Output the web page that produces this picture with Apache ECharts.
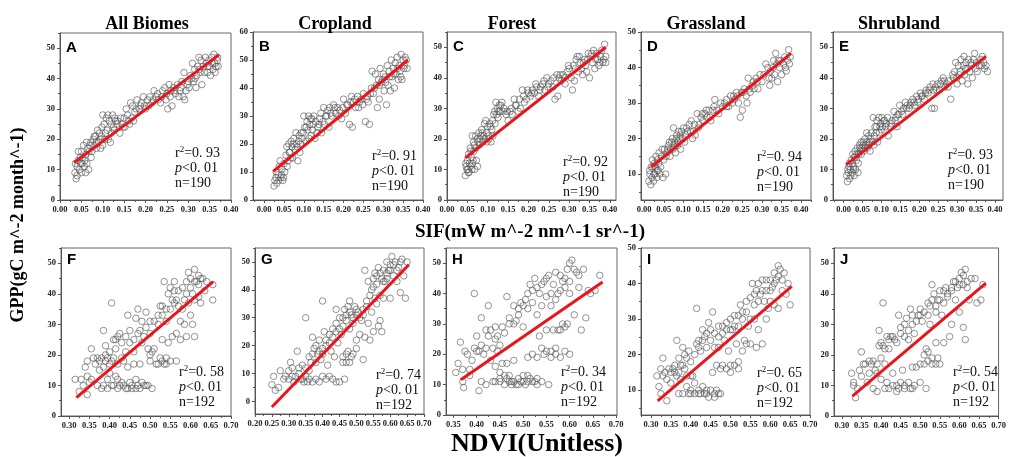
<!DOCTYPE html>
<html><head><meta charset="utf-8">
<script src="https://cdn.jsdelivr.net/npm/echarts@6/dist/echarts.min.js"></script>
<style>html,body{margin:0;padding:0;background:#fff}#c{width:1009px;height:457px}</style>
</head><body><div id="c"></div>
<script>
// ---------- text ----------
const titles = ['All Biomes','Cropland','Forest','Grassland','Shrubland'];
const letters = ['A','B','C','D','E','F','G','H','I','J'];
const r2Text = ['0. 93','0. 91','0. 92','0. 94','0. 93','0. 58','0. 74','0. 34','0. 65','0. 54'];
const pText = '0. 01';
const nCount = [190,190,190,190,190,192,192,192,192,192];
const xNameTop = 'SIF(mW m^-2 nm^-1 sr^-1)';
const xNameBottom = 'NDVI(Unitless)';
const yName = 'GPP(gC m^-2 month^-1)';

// ---------- tick labels ----------
const sifTicks = [0,0.05,0.10,0.15,0.20,0.25,0.30,0.35,0.40];
const ndviTicks30 = [0.30,0.35,0.40,0.45,0.50,0.55,0.60,0.65,0.70];
const ndviTicks20 = [0.20,0.25,0.30,0.35,0.40,0.45,0.50,0.55,0.60,0.65,0.70];
const ndviTicks35 = [0.35,0.40,0.45,0.50,0.55,0.60,0.65,0.70];
const gppTicks50 = [0,10,20,30,40,50];
const gppTicks60 = [0,10,20,30,40,50,60];
const gppTicks10 = [10,20,30,40,50];

// ---------- scatter data ----------
const dataA = [[0.035,9],[0.038,7],[0.04,11],[0.042,13],[0.045,10],[0.047,14],[0.05,9],[0.05,16],[0.052,12],[0.055,18],[0.057,11],[0.06,9],[0.06,15],[0.062,19],[0.065,17],[0.067,10],[0.07,18],[0.072,19],[0.075,16],[0.078,20],[0.08,18],[0.083,21],[0.085,17],[0.088,23],[0.09,19],[0.092,22],[0.095,17],[0.097,21],[0.1,28],[0.1,18],[0.103,25],[0.105,20],[0.108,27],[0.11,23],[0.112,28],[0.115,26],[0.118,19],[0.12,25],[0.123,28],[0.125,24],[0.128,27],[0.13,26],[0.135,26],[0.14,22],[0.145,25],[0.15,27],[0.152,24],[0.155,30],[0.16,26],[0.163,25],[0.165,32],[0.17,31],[0.175,29],[0.18,33],[0.185,30],[0.19,32],[0.195,34],[0.2,30],[0.205,33],[0.21,34],[0.215,32],[0.22,36],[0.225,34],[0.23,33],[0.235,32],[0.24,36],[0.245,37],[0.25,35],[0.252,30],[0.255,38],[0.26,36],[0.262,31],[0.265,37],[0.27,35],[0.275,38],[0.28,36],[0.285,39],[0.288,34],[0.29,42],[0.292,33],[0.295,36],[0.3,39],[0.302,37],[0.305,41],[0.31,45],[0.312,39],[0.315,43],[0.318,37],[0.32,41],[0.322,44],[0.325,47],[0.328,42],[0.33,46],[0.332,38],[0.335,44],[0.34,47],[0.342,45],[0.345,42],[0.348,46],[0.35,44],[0.352,41],[0.355,47],[0.358,43],[0.36,48],[0.362,45],[0.365,44],[0.368,46],[0.37,44],
 [0.036,12],[0.04,8],[0.043,16],[0.048,12],[0.053,14],[0.058,13],[0.063,12],[0.068,16],[0.073,14],[0.08,21],[0.086,19],[0.094,20],[0.098,24],[0.106,22],[0.113,20],[0.12,22],[0.127,23],[0.133,25],[0.142,27],[0.148,24],[0.158,28],[0.168,27],[0.172,26],[0.178,30],[0.188,31],[0.198,31],[0.208,31],[0.218,33],[0.228,35],[0.238,34],[0.248,33],[0.258,34],[0.268,36],[0.278,34],[0.283,37],[0.298,38],[0.308,40],[0.316,40],[0.326,43],[0.338,42],[0.346,44],[0.356,45],[0.363,42],[0.369,47]];
const dataB = [[0.025,5],[0.027,7],[0.03,8],[0.032,6],[0.035,9],[0.037,7],[0.04,14],[0.042,8],[0.045,11],[0.047,7],[0.05,13],[0.052,10],[0.055,16],[0.057,19],[0.06,14],[0.062,20],[0.065,17],[0.068,21],[0.07,19],[0.072,15],[0.075,22],[0.078,18],[0.08,24],[0.082,20],[0.085,14],[0.088,23],[0.09,17],[0.093,24],[0.095,22],[0.1,30],[0.102,26],[0.105,21],[0.108,28],[0.11,25],[0.112,30],[0.115,27],[0.118,23],[0.12,29],[0.122,25],[0.125,30],[0.128,22],[0.13,28],[0.133,24],[0.135,26],[0.14,29],[0.145,24],[0.15,33],[0.152,27],[0.155,30],[0.16,32],[0.163,26],[0.165,33],[0.17,30],[0.175,34],[0.18,31],[0.185,33],[0.19,32],[0.195,29],[0.2,36],[0.205,31],[0.21,34],[0.215,27],[0.22,37],[0.222,26],[0.225,35],[0.23,33],[0.235,37],[0.24,35],[0.245,36],[0.25,38],[0.255,28],[0.26,37],[0.262,35],[0.265,27],[0.27,40],[0.272,46],[0.275,38],[0.28,45],[0.283,41],[0.285,33],[0.288,43],[0.29,36],[0.292,47],[0.295,42],[0.3,45],[0.302,39],[0.305,44],[0.308,34],[0.31,48],[0.312,41],[0.315,46],[0.318,39],[0.32,50],[0.322,44],[0.325,47],[0.328,40],[0.33,49],[0.332,45],[0.335,51],[0.338,43],[0.34,48],[0.342,46],[0.345,52],[0.347,43],[0.35,50],[0.352,47],[0.355,51],[0.36,47],
 [0.03,10],[0.038,12],[0.044,9],[0.049,8],[0.058,12],[0.063,17],[0.067,15],[0.073,20],[0.083,19],[0.087,21],[0.092,20],[0.098,24],[0.106,26],[0.113,22],[0.117,29],[0.124,27],[0.138,27],[0.143,31],[0.148,28],[0.158,30],[0.168,31],[0.178,33],[0.188,30],[0.198,33],[0.208,34],[0.218,35],[0.228,36],[0.238,33],[0.248,34],[0.258,36],[0.268,38],[0.278,40],[0.29,41],[0.298,43],[0.306,42],[0.316,44],[0.326,45],[0.336,47],[0.344,44],[0.353,48],[0.358,50]];
const dataC = [[0.045,8],[0.047,11],[0.049,10],[0.05,13],[0.052,9],[0.053,15],[0.055,12],[0.057,17],[0.058,11],[0.06,14],[0.062,21],[0.063,12],[0.065,19],[0.066,16],[0.068,10],[0.07,21],[0.072,13],[0.074,20],[0.075,11],[0.078,22],[0.08,18],[0.083,21],[0.085,23],[0.088,19],[0.09,21],[0.093,20],[0.095,26],[0.098,19],[0.1,24],[0.103,20],[0.105,25],[0.108,19],[0.11,23],[0.113,21],[0.115,28],[0.118,25],[0.12,32],[0.123,30],[0.125,27],[0.128,31],[0.13,29],[0.135,32],[0.14,30],[0.145,28],[0.15,26],[0.155,29],[0.16,28],[0.165,33],[0.17,31],[0.175,29],[0.18,30],[0.185,36],[0.19,32],[0.195,33],[0.2,35],[0.205,34],[0.21,36],[0.215,35],[0.22,37],[0.225,34],[0.23,37],[0.235,38],[0.24,36],[0.245,40],[0.25,38],[0.255,39],[0.26,37],[0.265,33],[0.27,41],[0.272,34],[0.275,40],[0.28,39],[0.285,41],[0.29,38],[0.295,42],[0.3,43],[0.305,40],[0.308,36],[0.31,44],[0.313,39],[0.317,46],[0.32,47],[0.323,42],[0.327,45],[0.33,43],[0.333,41],[0.337,46],[0.34,44],[0.343,42],[0.347,48],[0.35,40],[0.353,47],[0.357,45],[0.36,49],[0.363,43],[0.367,48],[0.37,46],[0.373,44],[0.377,47],[0.38,49],[0.383,45],[0.387,51],[0.39,47],[0.385,46],[0.39,45],
 [0.046,12],[0.051,10],[0.054,9],[0.059,16],[0.061,10],[0.064,13],[0.067,18],[0.071,17],[0.076,19],[0.081,20],[0.087,22],[0.092,25],[0.097,22],[0.102,21],[0.107,24],[0.112,26],[0.117,29],[0.122,28],[0.127,29],[0.132,31],[0.138,29],[0.148,29],[0.158,30],[0.168,31],[0.178,33],[0.188,34],[0.198,36],[0.208,35],[0.218,38],[0.228,36],[0.238,39],[0.248,37],[0.262,40],[0.278,41],[0.288,40],[0.298,44],[0.315,43],[0.325,47],[0.335,45],[0.345,46],[0.355,48],[0.365,46],[0.375,45]];
const dataD = [[0.012,8],[0.015,10],[0.017,7],[0.02,9],[0.022,12],[0.024,8],[0.026,13],[0.028,10],[0.03,15],[0.032,9],[0.034,14],[0.036,11],[0.038,16],[0.04,10],[0.044,15],[0.048,9],[0.052,17],[0.055,10],[0.058,16],[0.062,18],[0.066,15],[0.07,19],[0.073,17],[0.075,23],[0.078,19],[0.08,16],[0.083,21],[0.085,18],[0.088,22],[0.09,20],[0.093,17],[0.095,22],[0.1,23],[0.103,19],[0.105,21],[0.11,22],[0.115,24],[0.12,25],[0.123,20],[0.125,22],[0.13,21],[0.135,27],[0.14,24],[0.145,26],[0.15,25],[0.155,27],[0.16,26],[0.165,28],[0.17,25],[0.175,28],[0.18,31],[0.185,28],[0.19,27],[0.2,29],[0.205,30],[0.21,31],[0.215,29],[0.22,32],[0.225,30],[0.23,31],[0.235,33],[0.24,30],[0.245,26],[0.248,33],[0.25,28],[0.255,34],[0.26,32],[0.262,30],[0.265,37],[0.27,33],[0.275,35],[0.28,34],[0.285,37],[0.29,34],[0.295,38],[0.3,36],[0.31,41],[0.315,40],[0.318,37],[0.32,35],[0.322,39],[0.325,37],[0.33,42],[0.332,38],[0.335,44],[0.338,41],[0.34,36],[0.342,42],[0.345,40],[0.35,38],[0.355,41],[0.36,40],[0.362,39],[0.365,42],[0.368,45],[0.37,41],
 [0.014,11],[0.018,12],[0.021,14],[0.025,10],[0.029,12],[0.033,11],[0.037,13],[0.042,12],[0.046,17],[0.05,14],[0.056,15],[0.06,17],[0.064,19],[0.068,17],[0.072,20],[0.077,18],[0.082,20],[0.087,19],[0.092,21],[0.098,20],[0.108,23],[0.118,22],[0.128,24],[0.138,23],[0.148,27],[0.158,28],[0.168,26],[0.178,29],[0.195,30],[0.21,29],[0.228,32],[0.238,32],[0.252,33],[0.268,34],[0.278,36],[0.288,36],[0.305,38],[0.328,40],[0.348,42],[0.358,43],[0.372,43]];
const dataE = [[0.008,8],[0.01,6],[0.012,9],[0.014,11],[0.016,7],[0.018,10],[0.02,13],[0.022,9],[0.024,15],[0.026,11],[0.028,8],[0.028,14],[0.03,16],[0.032,10],[0.034,13],[0.036,17],[0.038,9],[0.04,15],[0.042,18],[0.044,16],[0.046,19],[0.048,17],[0.051,18],[0.053,16],[0.056,20],[0.058,18],[0.061,22],[0.063,17],[0.066,21],[0.068,19],[0.07,16],[0.073,22],[0.078,27],[0.08,18],[0.083,24],[0.086,22],[0.088,26],[0.09,19],[0.093,27],[0.096,24],[0.098,25],[0.101,27],[0.103,24],[0.108,26],[0.113,25],[0.118,21],[0.123,24],[0.128,26],[0.133,29],[0.138,27],[0.141,24],[0.143,28],[0.148,31],[0.153,29],[0.158,30],[0.163,32],[0.168,31],[0.173,30],[0.178,32],[0.183,33],[0.188,31],[0.193,34],[0.198,33],[0.203,35],[0.208,34],[0.213,33],[0.218,36],[0.223,35],[0.228,37],[0.233,30],[0.236,38],[0.238,36],[0.24,30],[0.243,37],[0.248,38],[0.253,36],[0.258,39],[0.263,40],[0.268,37],[0.273,38],[0.278,39],[0.283,33],[0.288,41],[0.293,42],[0.296,45],[0.298,40],[0.3,38],[0.303,44],[0.308,42],[0.31,46],[0.313,39],[0.316,44],[0.318,47],[0.32,41],[0.323,45],[0.326,43],[0.328,38],[0.33,46],[0.333,42],[0.338,44],[0.34,40],[0.343,46],[0.346,48],[0.348,43],[0.353,42],[0.358,44],[0.362,46],[0.367,47],[0.372,43],[0.376,44],[0.38,42],
 [0.011,10],[0.015,12],[0.019,8],[0.023,12],[0.027,10],[0.031,14],[0.035,15],[0.039,12],[0.043,17],[0.047,15],[0.052,19],[0.057,17],[0.062,19],[0.067,18],[0.072,20],[0.076,19],[0.081,21],[0.087,24],[0.094,22],[0.1,23],[0.106,26],[0.111,24],[0.116,27],[0.126,25],[0.136,26],[0.146,28],[0.156,28],[0.166,30],[0.176,31],[0.186,32],[0.196,32],[0.206,34],[0.216,35],[0.226,36],[0.246,36],[0.256,38],[0.266,39],[0.276,37],[0.29,40],[0.306,41],[0.321,43],[0.336,45],[0.351,45],[0.365,44],[0.37,45]];
const dataF = [[0.315,12],[0.325,8],[0.335,10],[0.34,16],[0.345,18],[0.345,13],[0.35,11],[0.345,7],[0.355,22],[0.36,19],[0.37,19],[0.37,10],[0.375,18],[0.38,9],[0.385,28],[0.385,16],[0.39,20],[0.39,23],[0.395,19],[0.4,17],[0.4,14],[0.405,37],[0.405,10],[0.41,25],[0.41,19],[0.415,22],[0.415,13],[0.42,26],[0.42,9],[0.425,27],[0.43,24],[0.43,11],[0.435,18],[0.44,9],[0.44,26],[0.445,33],[0.445,16],[0.45,11],[0.45,28],[0.455,10],[0.46,25],[0.46,17],[0.465,12],[0.465,32],[0.47,35],[0.47,10],[0.475,28],[0.475,17],[0.48,31],[0.48,11],[0.485,26],[0.49,10],[0.49,34],[0.495,22],[0.5,18],[0.5,31],[0.505,9],[0.505,21],[0.51,22],[0.515,17],[0.52,17],[0.52,30],[0.525,36],[0.525,19],[0.53,33],[0.53,25],[0.535,44],[0.535,17],[0.54,35],[0.54,19],[0.545,40],[0.545,24],[0.55,42],[0.55,18],[0.555,38],[0.555,26],[0.56,41],[0.56,44],[0.565,38],[0.565,27],[0.57,36],[0.575,31],[0.575,25],[0.58,42],[0.585,38],[0.585,30],[0.59,44],[0.59,26],[0.595,47],[0.595,37],[0.6,45],[0.6,33],[0.605,40],[0.605,30],[0.61,48],[0.61,26],[0.615,44],[0.62,46],[0.62,39],[0.625,37],[0.63,45],[0.635,41],[0.655,38],[0.655,43],[0.385,10],[0.395,9],[0.41,10],[0.425,10],[0.435,10],[0.445,9],[0.455,9],[0.465,9],[0.475,9],[0.485,10],[0.495,10],[0.395,12],[0.42,12],
 [0.33,12],[0.355,12],[0.365,17],[0.375,15],[0.38,19],[0.39,18],[0.4,21],[0.405,18],[0.415,25],[0.42,17],[0.43,19],[0.44,21],[0.45,24],[0.46,21],[0.47,27],[0.48,24],[0.49,29],[0.5,27],[0.51,31],[0.52,33],[0.53,36],[0.54,31],[0.55,35],[0.56,37],[0.57,41],[0.58,35],[0.59,40],[0.6,42],[0.61,38],[0.62,43],[0.625,45],[0.64,44],[0.61,44],[0.53,18],[0.54,17],[0.5,20],[0.565,18]];
const dataG = [[0.25,6],[0.255,9],[0.27,5],[0.275,11],[0.29,9],[0.3,11],[0.305,14],[0.31,12],[0.315,7],[0.32,9],[0.325,18],[0.33,12],[0.335,8],[0.34,13],[0.345,7],[0.35,30],[0.35,9],[0.355,7],[0.36,16],[0.36,8],[0.365,14],[0.37,23],[0.37,7],[0.375,19],[0.38,20],[0.38,8],[0.385,17],[0.39,7],[0.39,22],[0.395,15],[0.4,36],[0.4,19],[0.4,9],[0.405,25],[0.41,22],[0.41,8],[0.415,13],[0.42,24],[0.42,9],[0.425,18],[0.43,26],[0.43,8],[0.435,16],[0.44,33],[0.44,28],[0.44,7],[0.445,21],[0.45,30],[0.45,7],[0.455,24],[0.46,16],[0.46,30],[0.465,33],[0.465,8],[0.47,29],[0.47,14],[0.475,34],[0.475,18],[0.48,26],[0.48,36],[0.485,31],[0.485,16],[0.49,28],[0.495,34],[0.5,22],[0.5,31],[0.505,32],[0.51,24],[0.515,29],[0.52,33],[0.52,15],[0.525,47],[0.525,23],[0.53,34],[0.535,43],[0.535,28],[0.54,22],[0.545,40],[0.545,32],[0.55,44],[0.55,25],[0.555,37],[0.555,46],[0.56,42],[0.56,35],[0.565,27],[0.565,48],[0.57,38],[0.57,29],[0.575,44],[0.575,25],[0.58,47],[0.58,37],[0.585,43],[0.59,50],[0.59,44],[0.595,47],[0.6,49],[0.6,37],[0.605,52],[0.61,45],[0.615,50],[0.62,43],[0.625,48],[0.63,39],[0.635,51],[0.64,45],[0.645,37],[0.65,50],
 [0.26,4],[0.285,8],[0.3,8],[0.31,9],[0.33,10],[0.34,8],[0.35,12],[0.36,11],[0.37,17],[0.38,14],[0.39,18],[0.4,17],[0.41,20],[0.42,21],[0.43,23],[0.44,25],[0.45,26],[0.46,27],[0.47,31],[0.48,32],[0.49,30],[0.5,33],[0.51,30],[0.52,31],[0.53,36],[0.54,38],[0.55,41],[0.56,45],[0.57,46],[0.58,43],[0.59,46],[0.6,47],[0.61,49],[0.62,47],[0.63,50],[0.5,19],[0.49,17],[0.47,17],[0.48,14],[0.46,14]];
const dataH = [[0.355,14],[0.36,17],[0.365,24],[0.37,11],[0.372,9],[0.375,21],[0.38,20],[0.385,15],[0.385,13],[0.395,40],[0.395,22],[0.4,26],[0.405,21],[0.405,8],[0.41,32],[0.41,11],[0.415,20],[0.42,22],[0.42,10],[0.425,26],[0.425,36],[0.43,28],[0.43,18],[0.435,22],[0.435,11],[0.44,29],[0.44,16],[0.445,26],[0.445,21],[0.45,14],[0.45,11],[0.455,29],[0.455,17],[0.46,13],[0.46,10],[0.465,39],[0.465,17],[0.47,32],[0.47,11],[0.475,11],[0.48,36],[0.48,18],[0.485,31],[0.485,10],[0.49,33],[0.49,12],[0.495,37],[0.495,11],[0.5,29],[0.5,13],[0.505,38],[0.505,10],[0.51,35],[0.51,19],[0.515,43],[0.515,12],[0.52,41],[0.52,20],[0.525,45],[0.525,11],[0.53,33],[0.53,19],[0.535,40],[0.535,26],[0.54,36],[0.54,22],[0.545,44],[0.545,20],[0.55,39],[0.55,28],[0.555,46],[0.555,10],[0.56,36],[0.56,21],[0.565,43],[0.565,28],[0.57,47],[0.57,20],[0.575,40],[0.575,28],[0.58,46],[0.58,19],[0.585,44],[0.585,30],[0.59,42],[0.59,21],[0.595,48],[0.595,30],[0.6,50],[0.6,40],[0.605,51],[0.61,33],[0.615,47],[0.62,46],[0.625,28],[0.63,48],[0.635,32],[0.64,41],[0.645,40],[0.655,41],[0.665,46],[0.465,12],[0.475,10],[0.49,10],[0.5,11],[0.51,11],[0.52,11],[0.53,10],[0.54,11],
 [0.37,15],[0.39,18],[0.4,21],[0.41,23],[0.42,28],[0.44,25],[0.45,23],[0.46,27],[0.47,30],[0.48,30],[0.49,35],[0.5,36],[0.51,40],[0.52,37],[0.53,42],[0.54,43],[0.55,45],[0.56,40],[0.57,38],[0.58,41],[0.59,45],[0.6,44],[0.61,48],[0.62,42],[0.55,21],[0.56,19],[0.57,22],[0.58,28],[0.59,29],[0.6,20],[0.53,12],[0.51,13],[0.47,13],[0.45,12],[0.44,11],[0.48,11]];
const dataI = [[0.315,14],[0.32,11],[0.325,9],[0.325,16],[0.33,19],[0.335,15],[0.34,13],[0.34,7],[0.345,16],[0.35,12],[0.355,16],[0.36,15],[0.365,14],[0.365,24],[0.37,19],[0.37,9],[0.375,17],[0.375,13],[0.38,22],[0.38,9],[0.385,16],[0.385,20],[0.39,14],[0.39,11],[0.395,21],[0.395,9],[0.4,18],[0.4,10],[0.405,14],[0.41,9],[0.41,12],[0.415,33],[0.415,23],[0.42,24],[0.42,10],[0.425,21],[0.425,9],[0.43,27],[0.43,11],[0.435,25],[0.435,9],[0.44,22],[0.44,10],[0.445,29],[0.445,8],[0.45,24],[0.45,10],[0.455,32],[0.455,15],[0.46,26],[0.46,9],[0.465,17],[0.465,10],[0.47,28],[0.47,22],[0.475,16],[0.475,9],[0.48,26],[0.48,17],[0.485,24],[0.49,29],[0.49,16],[0.495,21],[0.5,30],[0.5,15],[0.505,27],[0.51,31],[0.51,17],[0.515,23],[0.52,28],[0.52,16],[0.525,34],[0.53,30],[0.53,21],[0.535,24],[0.54,32],[0.54,23],[0.545,28],[0.55,36],[0.55,23],[0.555,40],[0.56,34],[0.56,30],[0.565,38],[0.565,22],[0.57,40],[0.57,27],[0.575,37],[0.58,41],[0.58,23],[0.585,35],[0.59,38],[0.59,30],[0.595,33],[0.6,41],[0.6,35],[0.605,39],[0.61,43],[0.61,34],[0.615,41],[0.62,45],[0.62,33],[0.625,44],[0.63,41],[0.635,43],[0.64,37],[0.645,40],[0.65,34],
 [0.33,14],[0.35,15],[0.36,17],[0.37,15],[0.38,17],[0.39,19],[0.4,14],[0.41,20],[0.42,22],[0.43,24],[0.44,26],[0.45,27],[0.46,22],[0.47,25],[0.48,28],[0.49,27],[0.5,27],[0.51,28],[0.52,31],[0.53,32],[0.54,35],[0.55,30],[0.56,37],[0.57,35],[0.58,38],[0.59,41],[0.6,38],[0.61,40],[0.62,42],[0.63,38],[0.4,9],[0.42,9],[0.44,9],[0.46,8],[0.47,9],[0.5,17],[0.52,18]];
const dataJ = [[0.325,14],[0.33,11],[0.335,6],[0.34,9],[0.345,15],[0.35,21],[0.355,17],[0.365,11],[0.37,18],[0.375,17],[0.38,9],[0.385,15],[0.39,8],[0.39,14],[0.395,28],[0.395,23],[0.4,19],[0.4,12],[0.405,37],[0.405,23],[0.41,17],[0.41,9],[0.415,26],[0.415,11],[0.42,22],[0.42,9],[0.425,26],[0.43,14],[0.435,25],[0.44,10],[0.445,33],[0.445,9],[0.45,27],[0.45,11],[0.455,15],[0.46,26],[0.46,10],[0.465,32],[0.47,25],[0.47,11],[0.475,35],[0.475,9],[0.48,30],[0.48,16],[0.485,27],[0.485,10],[0.49,16],[0.495,33],[0.5,35],[0.5,11],[0.505,31],[0.51,20],[0.51,17],[0.515,22],[0.515,9],[0.52,33],[0.52,18],[0.525,36],[0.525,30],[0.53,43],[0.53,17],[0.535,40],[0.54,34],[0.54,24],[0.545,38],[0.545,19],[0.55,41],[0.55,17],[0.555,33],[0.56,37],[0.56,24],[0.565,42],[0.57,39],[0.575,26],[0.58,41],[0.58,30],[0.585,44],[0.59,38],[0.595,42],[0.6,45],[0.6,34],[0.605,47],[0.61,43],[0.61,29],[0.615,48],[0.615,25],[0.62,44],[0.625,38],[0.63,45],[0.64,45],[0.645,37],[0.655,38],[0.66,43],
 [0.33,10],[0.35,13],[0.36,17],[0.37,14],[0.38,18],[0.39,17],[0.4,24],[0.41,22],[0.42,25],[0.43,26],[0.44,24],[0.45,29],[0.46,30],[0.47,28],[0.48,33],[0.49,31],[0.5,33],[0.51,34],[0.52,37],[0.53,38],[0.54,36],[0.55,38],[0.56,41],[0.57,40],[0.58,42],[0.59,44],[0.6,43],[0.61,46],[0.62,42],[0.43,10],[0.44,8],[0.46,9],[0.48,9],[0.5,17],[0.52,21],[0.53,19],[0.54,17]];

// ---------- regression lines (end points) ----------
const lineA = [[0.033,12.3],[0.372,47.8]];
const lineB = [[0.023,10.2],[0.362,50]];
const lineC = [[0.045,13.8],[0.39,50]];
const lineD = [[0.018,12],[0.374,44]];
const lineE = [[0.007,11.6],[0.376,47]];
const lineF = [[0.318,6],[0.656,44]];
const lineG = [[0.25,-2],[0.655,49]];
const lineH = [[0.366,11.6],[0.671,43.8]];
const lineI = [[0.317,7],[0.654,39.2]];
const lineJ = [[0.327,6.5],[0.667,43.4]];

// ---------- layout ----------
const panels = [
 {data:dataA,line:lineA,xr:[0,0.40],yr:[0,55],xt:sifTicks,yt:gppTicks50,grid:[60,33,171,167],st:[175,153],lt:15},
 {data:dataB,line:lineB,xr:[-0.028,0.40],yr:[0,60],xt:sifTicks,yt:gppTicks60,grid:[253,32,170,168],st:[372,156],lt:15},
 {data:dataC,line:lineC,xr:[0,0.415],yr:[0,55],xt:sifTicks,yt:gppTicks50,grid:[447,32,169,168],st:[563,162],lt:15},
 {data:dataD,line:lineD,xr:[-0.008,0.425],yr:[2.7,50],xt:sifTicks,yt:gppTicks10,grid:[641,32,170,168],st:[757,157],lt:15},
 {data:dataE,line:lineE,xr:[-0.028,0.421],yr:[0,55],xt:sifTicks,yt:gppTicks50,grid:[833,32,170,168],st:[948,155],lt:15},
 {data:dataF,line:lineF,xr:[0.28,0.70],yr:[0,55],xt:ndviTicks30,yt:gppTicks50,grid:[61,248,170,168],st:[179,372],lt:12},
 {data:dataG,line:lineG,xr:[0.20,0.70],yr:[-4.5,55],xt:ndviTicks20,yt:gppTicks50,grid:[255,248,169,166],st:[376,375],lt:12},
 {data:dataH,line:lineH,xr:[0.334,0.702],yr:[0,55],xt:ndviTicks35,yt:gppTicks50,grid:[446,248,171,167],st:[561,372],lt:12},
 {data:dataI,line:lineI,xr:[0.275,0.70],yr:[3,50],xt:ndviTicks30,yt:gppTicks10,grid:[641,248,169,167],st:[757,373],lt:12},
 {data:dataJ,line:lineJ,xr:[0.28,0.70],yr:[0,55],xt:ndviTicks30,yt:gppTicks50,grid:[834,248,170,168],st:[953,372],lt:12}
];
const titleCenters = [147,335,512,706,899];

function minorOf(t, lo, hi){
  const step = t[1]-t[0], out=[];
  for(let k=-1;k<t.length;k++){
    const v = (k<0? t[0]-step/2 : t[k]+step/2);
    if(v>=lo-1e-9 && v<=hi+1e-9) out.push(+v.toFixed(4));
  }
  return out;
}

const SERIF = '"Liberation Serif","Times New Roman",serif';
const AX = '#555';
const option = {animation:false, grid:[], xAxis:[], yAxis:[], series:[], graphic:[]};
panels.forEach((p,i)=>{
  const [l,t,w,h]=p.grid;
  option.grid.push({left:l,top:t,width:w,height:h,show:true,borderColor:'#666',borderWidth:1});
  const lab = {fontSize:8.5,fontWeight:'bold',fontFamily:SERIF,color:'#222'};
  option.xAxis.push({gridIndex:i,type:'value',position:'bottom',min:p.xr[0],max:p.xr[1],
    axisLine:{show:true,onZero:false,lineStyle:{color:AX}},
    axisTick:{show:true,length:3,customValues:p.xt,lineStyle:{color:AX}},
    axisLabel:Object.assign({customValues:p.xt,margin:5,formatter:v=>v.toFixed(2)},lab),
    splitLine:{show:false}});
  option.xAxis.push({gridIndex:i,type:'value',position:'bottom',min:p.xr[0],max:p.xr[1],
    axisLine:{show:false,onZero:false},axisTick:{show:true,length:2,customValues:minorOf(p.xt,p.xr[0],p.xr[1]),lineStyle:{color:AX}},
    axisLabel:{show:false},splitLine:{show:false}});
  option.yAxis.push({gridIndex:i,type:'value',position:'left',min:p.yr[0],max:p.yr[1],
    axisLine:{show:true,onZero:false,lineStyle:{color:AX}},
    axisTick:{show:true,length:3,customValues:p.yt,lineStyle:{color:AX}},
    axisLabel:Object.assign({customValues:p.yt,margin:5,formatter:v=>String(v)},lab),
    splitLine:{show:false}});
  option.yAxis.push({gridIndex:i,type:'value',position:'left',min:p.yr[0],max:p.yr[1],
    axisLine:{show:false,onZero:false},axisTick:{show:true,length:2,customValues:minorOf(p.yt,p.yr[0],p.yr[1]),lineStyle:{color:AX}},
    axisLabel:{show:false},splitLine:{show:false}});
  option.series.push({type:'scatter',xAxisIndex:2*i,yAxisIndex:2*i,data:p.data,symbol:'circle',symbolSize:6.5,silent:true,
    itemStyle:{color:'rgba(255,255,255,0)',borderColor:'#555',borderWidth:0.8},z:2});
  option.series.push({type:'line',xAxisIndex:2*i,yAxisIndex:2*i,data:p.line,symbol:'none',silent:true,
    lineStyle:{color:'#e8161b',width:3},z:3});
  option.graphic.push({type:'text',x:l+6,y:t+p.lt,z:10,style:{text:letters[i],fill:'#000',
    font:'bold 15px "Liberation Sans",Arial,sans-serif',verticalAlign:'middle',align:'left'}});
  option.graphic.push({type:'text',x:p.st[0],y:p.st[1]-7.5,z:10,style:{
    text:'{t|r}{s|2}{t|='+r2Text[i]+'}\n{it|p}{t|<'+pText+'}\n{t|n='+nCount[i]+'}',
    fill:'#111',align:'left',verticalAlign:'top',
    rich:{t:{fontSize:14,fontFamily:SERIF,fill:'#111',lineHeight:15},
          it:{fontSize:14,fontFamily:SERIF,fontStyle:'italic',fill:'#111',lineHeight:15},
          s:{fontSize:9,fontFamily:SERIF,fill:'#111',verticalAlign:'top',lineHeight:15}}}});
});
titles.forEach((tt,i)=>{
  option.graphic.push({type:'text',x:titleCenters[i],y:24,style:{text:tt,fill:'#000',
    font:'bold 18px '+SERIF,align:'center',verticalAlign:'middle'}});
});
option.graphic.push({type:'text',x:530,y:232,style:{text:xNameTop,fill:'#000',font:'bold 19px '+SERIF,align:'center',verticalAlign:'middle'}});
option.graphic.push({type:'text',x:537,y:444,style:{text:xNameBottom,fill:'#000',font:'bold 26px '+SERIF,align:'center',verticalAlign:'middle'}});
option.graphic.push({type:'text',x:18,y:225,rotation:Math.PI/2,style:{text:yName,fill:'#000',font:'bold 18px '+SERIF,align:'center',verticalAlign:'middle'}});

const chart = echarts.init(document.getElementById('c'),null,{renderer:'canvas'});
chart.setOption(option);
</script></body></html>
